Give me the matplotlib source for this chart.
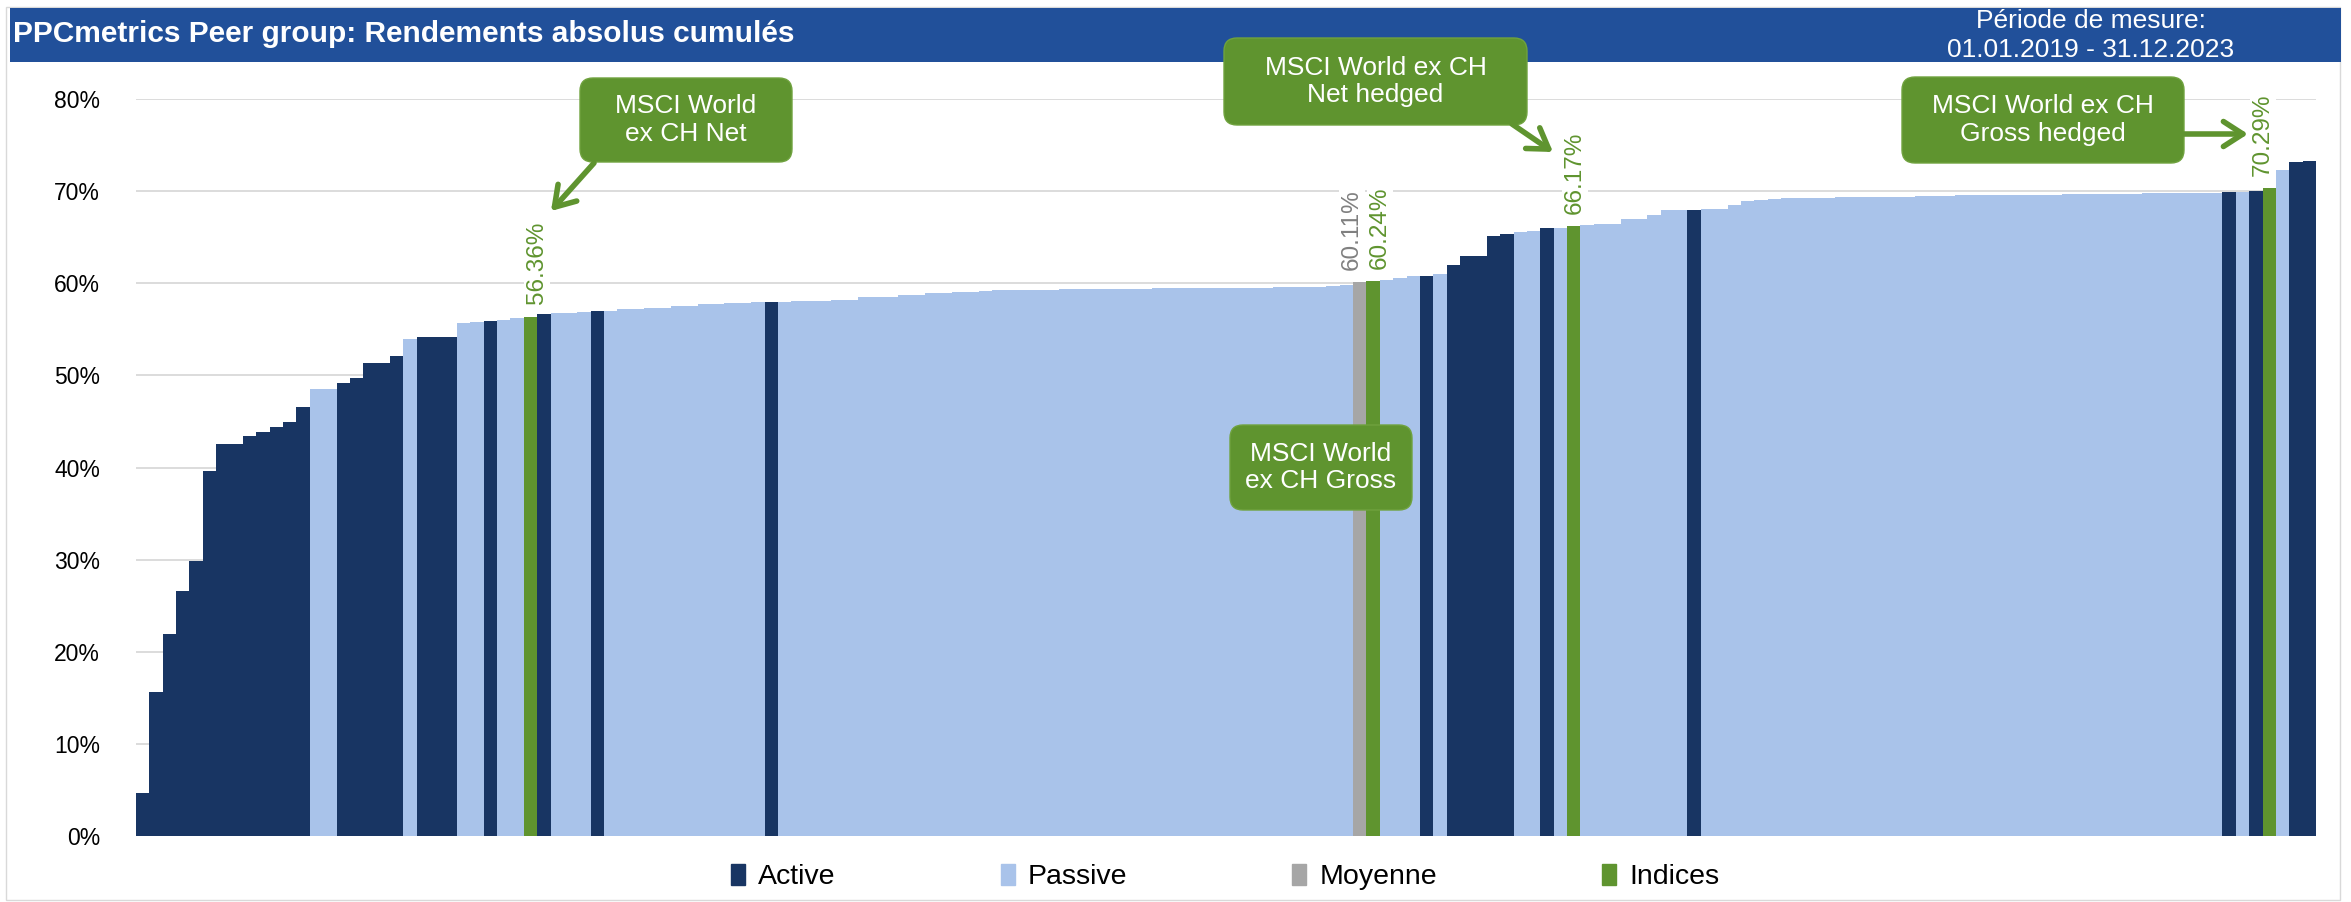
import matplotlib.pyplot as plt
import numpy as np
from matplotlib.patches import FancyBboxPatch, FancyArrowPatch, Rectangle, Patch

plt.rcParams['font.family'] = ['Liberation Sans', 'DejaVu Sans']

# rendements cumulés (%) triés, un par fonds / indice
values = [
    4.67, 15.6, 21.9, 26.6, 29.9, 39.6, 42.5, 42.5, 43.4, 43.9,
    44.4, 44.9, 46.6, 48.5, 48.5, 49.2, 49.7, 51.3, 51.3, 52.1,
    53.9, 54.2, 54.2, 54.2, 55.7, 55.8, 55.9, 56.0, 56.2, 56.36,
    56.7, 56.8, 56.8, 56.9, 57.0, 57.0, 57.2, 57.2, 57.35, 57.35,
    57.57, 57.57, 57.7, 57.75, 57.9, 57.9, 57.97, 58.0, 58.0, 58.1,
    58.1, 58.1, 58.2, 58.2, 58.5, 58.5, 58.5, 58.7, 58.7, 58.95,
    58.95, 59.0, 59.0, 59.2, 59.24, 59.24, 59.24, 59.3, 59.3, 59.33,
    59.33, 59.37, 59.4, 59.4, 59.4, 59.4, 59.45, 59.45, 59.45, 59.45,
    59.5, 59.5, 59.53, 59.53, 59.53, 59.56, 59.56, 59.6, 59.63, 59.7,
    59.86, 60.11, 60.24, 60.36, 60.6, 60.8, 60.8, 61.0, 62.0, 63.0,
    63.0, 65.1, 65.3, 65.6, 65.7, 66.05, 66.05, 66.17, 66.3, 66.45,
    66.45, 66.96, 66.96, 67.4, 67.9, 67.9, 68.0, 68.1, 68.1, 68.5,
    68.9, 69.0, 69.1, 69.2, 69.2, 69.28, 69.3, 69.35, 69.35, 69.35,
    69.35, 69.38, 69.38, 69.42, 69.42, 69.45, 69.53, 69.53, 69.53, 69.53,
    69.53, 69.53, 69.53, 69.53, 69.64, 69.64, 69.64, 69.64, 69.64, 69.64,
    69.78, 69.78, 69.78, 69.78, 69.78, 69.85, 69.9, 69.9, 70.0, 70.29,
    72.3, 73.2, 73.3,
]

# A = Active, P = Passive, M = Moyenne, I = Indices
categories = [
    'A', 'A', 'A', 'A', 'A', 'A', 'A', 'A', 'A', 'A',
    'A', 'A', 'A', 'P', 'P', 'A', 'A', 'A', 'A', 'A',
    'P', 'A', 'A', 'A', 'P', 'P', 'A', 'P', 'P', 'I',
    'A', 'P', 'P', 'P', 'A', 'P', 'P', 'P', 'P', 'P',
    'P', 'P', 'P', 'P', 'P', 'P', 'P', 'A', 'P', 'P',
    'P', 'P', 'P', 'P', 'P', 'P', 'P', 'P', 'P', 'P',
    'P', 'P', 'P', 'P', 'P', 'P', 'P', 'P', 'P', 'P',
    'P', 'P', 'P', 'P', 'P', 'P', 'P', 'P', 'P', 'P',
    'P', 'P', 'P', 'P', 'P', 'P', 'P', 'P', 'P', 'P',
    'P', 'M', 'I', 'P', 'P', 'P', 'A', 'P', 'A', 'A',
    'A', 'A', 'A', 'P', 'P', 'A', 'P', 'I', 'P', 'P',
    'P', 'P', 'P', 'P', 'P', 'P', 'A', 'P', 'P', 'P',
    'P', 'P', 'P', 'P', 'P', 'P', 'P', 'P', 'P', 'P',
    'P', 'P', 'P', 'P', 'P', 'P', 'P', 'P', 'P', 'P',
    'P', 'P', 'P', 'P', 'P', 'P', 'P', 'P', 'P', 'P',
    'P', 'P', 'P', 'P', 'P', 'P', 'A', 'P', 'A', 'I',
    'P', 'A', 'A',
]

legend_labels = ['Active', 'Passive', 'Moyenne', 'Indices']
legend_codes = ['A', 'P', 'M', 'I']
colors = {'A': '#183563', 'P': '#A9C3EA', 'M': '#A6A6A6', 'I': '#5F942F'}
label_colors = {'M': '#808080', 'I': '#5F942F'}

title = 'PPCmetrics Peer group: Rendements absolus cumulés'
period = ['Période de mesure:', '01.01.2019 - 31.12.2023']

W, H = 2351, 902
fig = plt.figure(figsize=(W / 100, H / 100), dpi=100)


def fx(x):
    return x / W


def fy(y):
    return 1 - y / H


# cadre + bandeau titre
fig.add_artist(Rectangle((fx(6), fy(900)), fx(2340) - fx(6), fy(7) - fy(900),
                         transform=fig.transFigure, fill=False, ec='#D9D9D9', lw=1))
fig.add_artist(Rectangle((fx(10), fy(62)), fx(2341) - fx(10), fy(8) - fy(62),
                         transform=fig.transFigure, fc='#21509A', ec='none'))
fig.text(fx(13), fy(34), title, color='white', fontsize=21.5, fontweight='bold',
         ha='left', va='center')
fig.text(fx(2091), fy(21), period[0], color='white', fontsize=19, ha='center', va='center')
fig.text(fx(2091), fy(50), period[1], color='white', fontsize=19, ha='center', va='center')

ax = fig.add_axes([fx(136), fy(836), fx(2316) - fx(136), fy(99) - fy(836)])
x = np.arange(len(values))
vals = np.array(values) / 100
ax.bar(x, vals, width=1.0, color=[colors[c] for c in categories], linewidth=0, zorder=2)
ax.set_xlim(-0.5, len(values) - 0.5)
ax.set_ylim(0, 0.8)
ticks = np.arange(0, 9) / 10
ax.set_yticks(ticks)
ax.set_yticklabels([f'{int(round(t * 100))}%' for t in ticks])
ax.set_xticks([])
ax.yaxis.grid(True, color='#D9D9D9', lw=1.3)
ax.set_axisbelow(True)
for s in ax.spines.values():
    s.set_visible(False)
ax.tick_params(axis='y', length=0, pad=26, labelsize=16.5)

# étiquettes des indices et de la moyenne
label_dx = {29: 0.5, 91: -0.6, 92: 0.5, 107: 0.1, 159: -0.45}
for i, c in enumerate(categories):
    if c in label_colors:
        ax.annotate(f'{values[i]:.2f}%', xy=(i + label_dx.get(i, 0), vals[i]),
                    xytext=(0, 9), textcoords='offset points', rotation=90,
                    ha='center', va='bottom', color=label_colors[c], fontsize=17.5,
                    bbox=dict(fc='white', ec='none', pad=1.5), zorder=4)

# bulles
green = '#5F942F'
boxes = [
    ('MSCI World\nex CH Net', 580, 78, 792, 162),
    ('MSCI World ex CH\nNet hedged', 1224, 38, 1527, 125),
    ('MSCI World ex CH\nGross hedged', 1902, 77, 2184, 163),
    ('MSCI World\nex CH Gross', 1230, 425, 1412, 510),
]
for txt, x0, y0, x1, y1 in boxes:
    fig.add_artist(FancyBboxPatch((x0 / 100, (H - y1) / 100), (x1 - x0) / 100, (y1 - y0) / 100,
                                  boxstyle='round,pad=0,rounding_size=0.13',
                                  transform=fig.dpi_scale_trans, fc=green, ec='#6FA23E',
                                  lw=1, zorder=5))
    fig.text(fx((x0 + x1) / 2), fy((y0 + y1) / 2), txt, color='white', fontsize=19,
             ha='center', va='center', linespacing=1.2, zorder=6)

arrows = [
    ((594, 163), (551, 211)),
    ((1512, 124), (1553, 152)),
    ((2184, 134), (2248, 134)),
]
for (xa, ya), (xb, yb) in arrows:
    fig.add_artist(FancyArrowPatch((xa / 100, (H - ya) / 100), (xb / 100, (H - yb) / 100),
                                   transform=fig.dpi_scale_trans,
                                   arrowstyle='->,head_length=0.7,head_width=0.45',
                                   mutation_scale=20, lw=4, color=green,
                                   shrinkA=0, shrinkB=0, zorder=5))

handles = [Patch(color=colors[c]) for c in legend_codes]
fig.legend(handles, legend_labels, loc='center', bbox_to_anchor=(fx(1225), fy(877)),
           ncol=4, frameon=False, fontsize=20.5, handlelength=0.5, handleheight=0.75,
           handletextpad=0.45, columnspacing=5.8)

fig.savefig('out.png', dpi=100)
